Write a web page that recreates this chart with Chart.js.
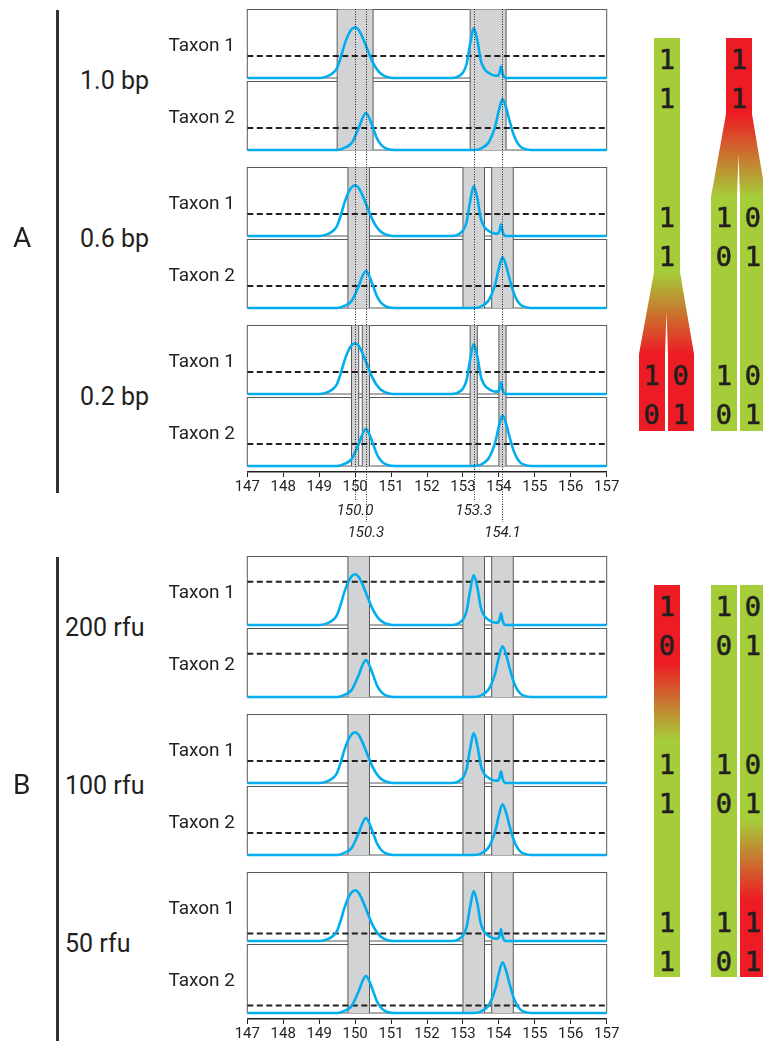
<!DOCTYPE html>
<html>
<head>
<meta charset="utf-8">
<script src="https://cdn.jsdelivr.net/npm/chart.js@4.4.1/dist/chart.umd.min.js"></script>
<style>
  body { margin: 0; background: #fff; }
  #page { position: relative; width: 763px; height: 1041px; overflow: hidden; font-family: Roboto, sans-serif; color: #231f20; }
  canvas { position: absolute; left: 220px; }
  .lbl { position: absolute; white-space: nowrap; line-height: 1; transform: translateY(-50%); }
  .taxon { left: 0; width: 235px; text-align: right; font-size: 19px; }
  .cond { font-size: 25px; }
  .sec { left: 13px; font-size: 28px; }
  .vline { position: absolute; left: 56px; width: 2.5px; background: #333; }
  .bar { position: absolute; }
  .digit { position: absolute; width: 26px; margin-left: -13px; text-align: center; font-family: "DejaVu Sans Mono", monospace; font-size: 27px; line-height: 1; transform: translateY(-50%); color: #231f20; -webkit-text-stroke: 0.6px #231f20; }
</style>
</head>
<body>
<div id="page">
  <canvas id="chartA" width="420" height="548" style="top:0px"></canvas>
  <canvas id="chartB" width="420" height="494" style="top:547px"></canvas>
  <div class="vline" style="top:10px;height:483px"></div>
  <div class="vline" style="top:557px;height:484px"></div>

  <!-- coloured code bars -->
  <div class="bar" style="left:654px;top:38px;width:26px;height:234px;background:#a5cd39"></div>
  <div class="bar" style="left:639px;top:272px;width:55px;height:82px;background:linear-gradient(#a5cd39,#ed1c24);clip-path:polygon(15px 0,41px 0,55px 82px,29px 82px,27.5px 40px,26px 82px,0 82px)"></div>
  <div class="bar" style="left:639px;top:354px;width:26px;height:77px;background:#ed1c24"></div>
  <div class="bar" style="left:668px;top:354px;width:26px;height:77px;background:#ed1c24"></div>
  <div class="bar" style="left:726px;top:38px;width:26px;height:76px;background:#ed1c24"></div>
  <div class="bar" style="left:711px;top:114px;width:55px;height:83px;background:linear-gradient(#ed1c24,#a5cd39);clip-path:polygon(15px 0,41px 0,55px 83px,29px 83px,27.5px 40px,26px 83px,0 83px)"></div>
  <div class="bar" style="left:711px;top:197px;width:26px;height:234px;background:#a5cd39"></div>
  <div class="bar" style="left:740px;top:197px;width:26px;height:234px;background:#a5cd39"></div>
  <div class="bar" style="left:654px;top:585px;width:26px;height:392px;background:linear-gradient(#ed1c24 0,#ed1c24 78px,#a5cd39 155px,#a5cd39 100%)"></div>
  <div class="bar" style="left:711px;top:585px;width:26px;height:392px;background:#a5cd39"></div>
  <div class="bar" style="left:740px;top:585px;width:26px;height:392px;background:linear-gradient(#a5cd39 0,#a5cd39 235px,#ed1c24 315px,#ed1c24 100%)"></div>
</div>
<script>
// ---- data ----
const X_MIN = 147, X_MAX = 157;
const taxonNames = ['Taxon 1', 'Taxon 2'];
const conditionsA = ['1.0 bp', '0.6 bp', '0.2 bp'];
const conditionsB = ['200 rfu', '100 rfu', '50 rfu'];

// relative signal (fraction of panel height) along the size axis
const taxon1X = [147, 149.0, 149.2, 149.4, 149.5, 149.6, 149.7, 149.8, 149.9, 150.0, 150.1, 150.2, 150.3, 150.4, 150.5, 150.6, 150.7, 150.8, 150.9, 151.05,
                 152.7, 152.9, 153.0, 153.1, 153.2, 153.3, 153.4, 153.5, 153.6, 153.7, 153.8, 153.9, 153.97, 154.02, 154.06, 154.1, 154.15, 154.25, 157];
const taxon1Y = [0, 0, 0.02, 0.08, 0.15, 0.30, 0.48, 0.62, 0.71, 0.74, 0.70, 0.60, 0.47, 0.34, 0.22, 0.13, 0.07, 0.035, 0.015, 0,
                 0, 0.03, 0.08, 0.20, 0.50, 0.73, 0.55, 0.25, 0.13, 0.08, 0.05, 0.035, 0.035, 0.08, 0.17, 0.07, 0.01, 0, 0];
const taxon2X = [147, 149.5, 149.7, 149.9, 150.0, 150.1, 150.2, 150.3, 150.4, 150.5, 150.6, 150.7, 150.8, 150.9, 151.1,
                 153.3, 153.5, 153.7, 153.8, 153.9, 154.0, 154.1, 154.2, 154.3, 154.4, 154.5, 154.6, 154.7, 154.9, 157];
const taxon2Y = [0, 0, 0.03, 0.10, 0.20, 0.32, 0.46, 0.54, 0.46, 0.32, 0.18, 0.09, 0.04, 0.015, 0,
                 0, 0.02, 0.10, 0.20, 0.35, 0.58, 0.74, 0.62, 0.42, 0.24, 0.12, 0.05, 0.02, 0, 0];

// detection threshold per condition (fraction of panel height)
const thresholdA = [0.32, 0.32, 0.32];
const thresholdB = [0.63, 0.32, 0.11];

// bins per condition [from, to]
const binsA = [
  [[149.5, 150.5], [153.2, 154.2]],
  [[149.8, 150.4], [153.0, 153.6], [153.8, 154.4]],
  [[149.9, 150.1], [150.2, 150.4], [153.2, 153.4], [154.0, 154.2]]
];
const binsB = [
  [[149.8, 150.4], [153.0, 153.6], [153.8, 154.4]],
  [[149.8, 150.4], [153.0, 153.6], [153.8, 154.4]],
  [[149.8, 150.4], [153.0, 153.6], [153.8, 154.4]]
];

// true peak sizes, label line 0 or 1
const peakMarks = [150.0, 150.3, 153.3, 154.1];
const peakMarkLine = [0, 1, 0, 1];

// binary codes per condition: [column, bits]
const codesA = [
  [['c1', '11'], ['c2', '11']],
  [['c1', '11'], ['c2L', '10'], ['c2R', '01']],
  [['c1L', '10'], ['c1R', '01'], ['c2L', '10'], ['c2R', '01']]
];
const codesB = [
  [['c1', '10'], ['c2L', '10'], ['c2R', '01']],
  [['c1', '11'], ['c2L', '10'], ['c2R', '01']],
  [['c1', '11'], ['c2L', '10'], ['c2R', '11']]
];

// ---- layout ----
const AREA_H = 463, ROW_H = 68.5, ROW_STEP = 72, PAIR_STEP = 158, TOP_OFF = 0.5, AREA_TOP = 9;
const colX = { c1: 667, c1L: 652, c1R: 681, c2: 739, c2L: 724, c2R: 753 };
const traces = [{ x: taxon1X, y: taxon1Y }, { x: taxon2X, y: taxon2Y }];

const rowTopPx = (p, r) => TOP_OFF + p * PAIR_STEP + r * ROW_STEP;
const rowBase = (p, r) => AREA_H - (rowTopPx(p, r) + ROW_H);

function buildDatasets(thresholds) {
  const ds = [];
  thresholds.forEach((t, p) => {
    traces.forEach((tr, r) => {
      const base = rowBase(p, r);
      ds.push({
        data: [{ x: X_MIN, y: base + t * ROW_H }, { x: X_MAX, y: base + t * ROW_H }],
        borderColor: '#231f20', borderWidth: 2, borderDash: [6, 3.5], pointRadius: 0, order: 1
      });
      ds.push({
        data: tr.x.map((x, i) => ({ x, y: base + tr.y[i] * ROW_H })),
        borderColor: '#00aeef', borderWidth: 2.6, cubicInterpolationMode: 'monotone', pointRadius: 0, order: 0
      });
    });
  });
  return ds;
}

const panelDecor = {
  id: 'panelDecor',
  beforeDatasetsDraw(chart, args, opts) {
    const { ctx, scales: { x, y } } = chart;
    const L = x.getPixelForValue(X_MIN), R = x.getPixelForValue(X_MAX);
    ctx.save();
    ctx.strokeStyle = '#58595b';
    ctx.lineWidth = 1;
    opts.bins.forEach((bins, p) => {
      for (let r = 0; r < 2; r++) {
        const base = rowBase(p, r);
        const t = y.getPixelForValue(base + ROW_H), b = y.getPixelForValue(base);
        ctx.strokeRect(L, t, R - L, b - t);
      }
      const top = y.getPixelForValue(rowBase(p, 0) + ROW_H);
      const bot = y.getPixelForValue(rowBase(p, 1));
      bins.forEach(([a, c]) => {
        const xa = x.getPixelForValue(a), xc = x.getPixelForValue(c);
        ctx.fillStyle = '#d1d3d4';
        ctx.fillRect(xa, top, xc - xa, bot - top);
        ctx.beginPath();
        ctx.moveTo(xa, top); ctx.lineTo(xa, bot);
        ctx.moveTo(xc, top); ctx.lineTo(xc, bot);
        ctx.stroke();
      });
    });
    ctx.restore();
  },
  afterDatasetsDraw(chart, args, opts) {
    if (!opts.marks) return;
    const { ctx, chartArea, scales: { x } } = chart;
    ctx.save();
    ctx.strokeStyle = '#231f20';
    ctx.lineWidth = 1;
    ctx.setLineDash([1, 1.5]);
    opts.marks.forEach((m, i) => {
      const px = Math.round(x.getPixelForValue(m)) + 0.5;
      ctx.beginPath();
      ctx.moveTo(px, chartArea.top);
      ctx.lineTo(px, chartArea.bottom + (peakMarkLine[i] ? 50 : 28));
      ctx.stroke();
    });
    ctx.setLineDash([]);
    ctx.fillStyle = '#231f20';
    ctx.font = 'italic 15px Roboto';
    ctx.textAlign = 'center';
    ctx.textBaseline = 'middle';
    opts.marks.forEach((m, i) => {
      ctx.fillText(m.toFixed(1), x.getPixelForValue(m), chartArea.bottom + (peakMarkLine[i] ? 61 : 39));
    });
    ctx.restore();
  }
};

function makeChart(id, thresholds, bins, marks, padBottom) {
  return new Chart(document.getElementById(id), {
    type: 'line',
    data: { datasets: buildDatasets(thresholds) },
    options: {
      responsive: false,
      animation: false,
      events: [],
      layout: { padding: { top: AREA_TOP, left: 27.3, right: 33.3, bottom: padBottom } },
      plugins: {
        legend: { display: false },
        tooltip: { enabled: false },
        panelDecor: { bins, marks }
      },
      scales: {
        x: {
          type: 'linear', min: X_MIN, max: X_MAX,
          ticks: { stepSize: 1, autoSkip: false, maxRotation: 0, padding: 1, color: '#231f20', font: { family: 'Roboto', size: 15 } },
          grid: { drawOnChartArea: false, drawTicks: true, tickLength: 5, color: '#231f20', lineWidth: 1 },
          border: { color: '#231f20', width: 1.5 },
          afterFit: (axis) => { axis.height = 20; }
        },
        y: { display: false, min: 0, max: AREA_H }
      }
    },
    plugins: [panelDecor]
  });
}

makeChart('chartA', thresholdA, binsA, peakMarks, 56);
makeChart('chartB', thresholdB, binsB, null, 2);

// ---- text labels and binary digits ----
const page = document.getElementById('page');
function addText(cls, text, top, left, extra) {
  const d = document.createElement('div');
  d.className = cls;
  d.textContent = text;
  d.style.top = top + 'px';
  if (left !== null) d.style.left = left + 'px';
  if (extra) Object.assign(d.style, extra);
  page.appendChild(d);
}
[[conditionsA, codesA, 0, 80, 'A'], [conditionsB, codesB, 547, 65, 'B']].forEach(([conds, codes, off, condLeft, sec]) => {
  conds.forEach((c, p) => {
    const pairCenter = off + AREA_TOP + rowTopPx(p, 0) + (ROW_STEP + ROW_H) / 2;
    addText('lbl cond', c, pairCenter, condLeft);
    taxonNames.forEach((t, r) => addText('lbl taxon', t, off + AREA_TOP + rowTopPx(p, r) + ROW_H / 2, null));
    codes[p].forEach(([col, bits]) => {
      [...bits].forEach((b, k) => {
        addText('digit', b, pairCenter - 1 + (k ? 19.5 : -19.5), colX[col]);
      });
    });
    if (p === 1) addText('lbl sec', sec, pairCenter, null);
  });
});
</script>
</body>
</html>
